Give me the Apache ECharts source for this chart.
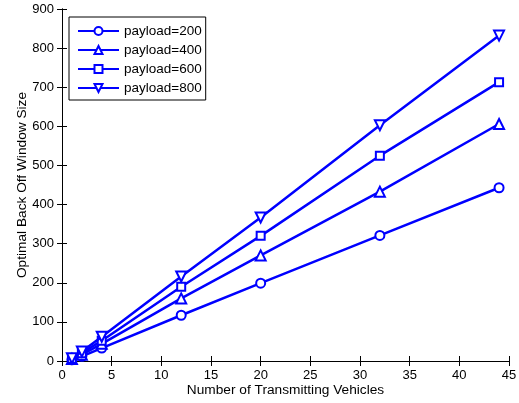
<!DOCTYPE html>
<html><head><meta charset="utf-8">
<script src="https://cdn.jsdelivr.net/npm/echarts@6/dist/echarts.min.js"></script>
<style>html,body{margin:0;padding:0;background:#fff}#c{width:519px;height:403px}</style>
</head><body><div id="c"></div>
<script>
const xs = [1, 2, 4, 12, 20, 32, 44];
const p200 = [3, 12, 33, 117, 199, 321, 443];
const p400 = [5, 16, 44, 160, 270, 433, 606];
const p600 = [6, 20, 52, 190, 320, 525, 713];
const p800 = [7, 24, 62, 216, 367, 603, 832];
const names = ['payload=200', 'payload=400', 'payload=600', 'payload=800'];
const xTitle = 'Number of Transmitting Vehicles';
const yTitle = 'Optimal Back Off Window Size';

const font = 'Liberation Sans, Arial, sans-serif';
const blue = '#0000ff';
const pair = (vals) => xs.map((x, i) => [x, vals[i]]);
const symbols = [['emptyCircle', 0, 9], ['emptyTriangle', 0, 10], ['emptyRect', 0, 8], ['emptyTriangle', 180, 10]];
const seriesVals = [p200, p400, p600, p800];

const chart = echarts.init(document.getElementById('c'), null, {renderer: 'canvas'});
const axisCommon = {
  axisLine: {lineStyle: {color: '#000', width: 1}},
  axisTick: {inside: true, length: 5, lineStyle: {color: '#000'}},
  splitLine: {show: false},
  axisLabel: {color: '#000', fontSize: 13, fontFamily: font}
};
const titleStyle = {color: '#000', fontSize: 13.7, fontFamily: font};
chart.setOption({
  animation: false,
  backgroundColor: '#fff',
  grid: {left: 62, right: 10, top: 9, bottom: 42, outerBoundsMode: 'none', containLabel: false},
  legend: {
    orient: 'vertical', left: 69, top: 17,
    data: names,
    backgroundColor: '#fff',
    borderColor: '#000', borderWidth: 1, borderRadius: 0,
    padding: [7, 4, 5, 8],
    itemGap: 5, itemWidth: 41, itemHeight: 10,
    textStyle: {color: '#000', fontSize: 13.5, fontFamily: font}
  },
  xAxis: [
    Object.assign({type: 'value', min: 0, max: 45, interval: 5, name: xTitle, nameLocation: 'middle', nameGap: 22,
      nameMoveOverlap: false, nameTextStyle: titleStyle}, axisCommon),
    Object.assign({}, axisCommon, {type: 'value', position: 'top', min: 0, max: 45, interval: 5, axisLabel: {show: false}})
  ],
  yAxis: [
    Object.assign({type: 'value', min: 0, max: 900, interval: 100, name: yTitle, nameLocation: 'middle', nameGap: 33,
      nameMoveOverlap: false, nameTextStyle: titleStyle}, axisCommon),
    Object.assign({}, axisCommon, {type: 'value', position: 'right', min: 0, max: 900, interval: 100, axisLabel: {show: false}})
  ],
  series: seriesVals.map((v, i) => ({
    name: names[i], type: 'line', data: pair(v),
    symbol: symbols[i][0], symbolRotate: symbols[i][1], symbolSize: symbols[i][2],
    showAllSymbol: true,
    lineStyle: {color: blue, width: 2.5},
    itemStyle: {color: blue, borderColor: blue, borderWidth: 2},
    z: 2 + i
  }))
});
</script></body></html>
